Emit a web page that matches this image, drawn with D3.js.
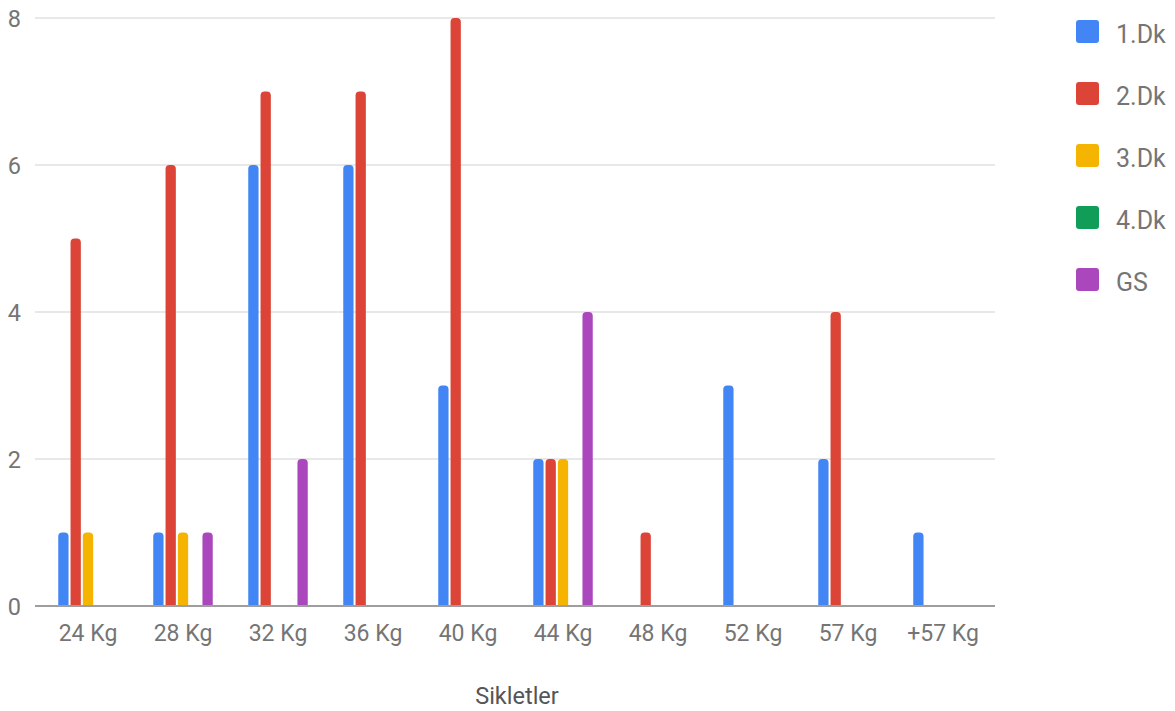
<!DOCTYPE html>
<html><head><meta charset="utf-8">
<script src="https://cdn.jsdelivr.net/npm/d3@7"></script>
<style>body{margin:0;background:#fff;}svg{display:block;font-family:Roboto,sans-serif;}</style>
</head><body><svg id="c" width="1175" height="711"></svg>
<script>
const categories = ["24 Kg","28 Kg","32 Kg","36 Kg","40 Kg","44 Kg","48 Kg","52 Kg","57 Kg","+57 Kg"];
const seriesNames = ["1.Dk","2.Dk","3.Dk","4.Dk","GS"];
const s1 = [1,1,6,6,3,2,0,3,2,1];
const s2 = [5,6,7,7,8,2,1,0,4,0];
const s3 = [1,1,0,0,0,2,0,0,0,0];
const s4 = [0,0,0,0,0,0,0,0,0,0];
const s5 = [0,1,2,0,0,4,0,0,0,0];
const yTicks = [0,2,4,6,8];
const colors = ["#4285F4","#DB4437","#F4B400","#0F9D58","#AB47BC"];
const seriesValues = [s1,s2,s3,s4,s5];

const svg = d3.select("#c");
const x = d3.scaleBand().domain(categories).range([40.5, 990.5]);
const inner = d3.scaleBand().domain(seriesNames).range([-29.75, 29.75]).paddingInner(0.163);
const y = d3.scaleLinear().domain([0,8]).range([606,18]);

// gridlines
svg.append("g").selectAll("line").data(yTicks.filter(d=>d>0)).join("line")
  .attr("x1",35).attr("x2",995).attr("y1",d=>y(d)).attr("y2",d=>y(d))
  .attr("stroke","#e0e0e0").attr("stroke-width",1.5);

// y labels
svg.append("g").selectAll("text").data(yTicks).join("text")
  .attr("x",21).attr("y",d=>y(d)).attr("dy","0.37em").attr("text-anchor","end")
  .attr("font-size",23.5).attr("fill","#757575").text(d=>d);

function topRounded(x0,w,y0,y1,r){
  r=Math.min(r,(y1-y0),w/2);
  return `M${x0},${y1}L${x0},${y0+r}Q${x0},${y0} ${x0+r},${y0}L${x0+w-r},${y0}Q${x0+w},${y0} ${x0+w},${y0+r}L${x0+w},${y1}Z`;
}
const bars=[];
seriesNames.forEach((s,si)=>categories.forEach((c,ci)=>{
  const v=seriesValues[si][ci]; if(v>0) bars.push({s,c,v,si});
}));
svg.append("g").selectAll("path").data(bars).join("path")
  .attr("d",d=>{const cx=x(d.c)+x.bandwidth()/2; return topRounded(cx+inner(d.s),inner.bandwidth(),y(d.v),y(0),4);})
  .attr("fill",d=>colors[d.si]);

// baseline
svg.append("line").attr("x1",35).attr("x2",995).attr("y1",y(0)).attr("y2",y(0))
  .attr("stroke","#9e9e9e").attr("stroke-width",2);

// x axis labels
svg.append("g").selectAll("text").data(categories).join("text")
  .attr("x",d=>x(d)+x.bandwidth()/2).attr("y",641).attr("text-anchor","middle")
  .attr("font-size",23).attr("fill","#757575").text(d=>d);

svg.append("text").attr("x",517).attr("y",704).attr("text-anchor","middle")
  .attr("font-size",23.5).attr("fill","#555").text("Sikletler");

// legend
const lg = svg.append("g").selectAll("g").data(seriesNames).join("g")
  .attr("transform",(d,i)=>`translate(1076,${20+i*62})`);
lg.append("rect").attr("width",23).attr("height",23).attr("rx",3).attr("fill",(d,i)=>colors[i]);
lg.append("text").attr("x",40).attr("y",23).attr("font-size",25).attr("fill","#757575").text(d=>d);
</script></body></html>
